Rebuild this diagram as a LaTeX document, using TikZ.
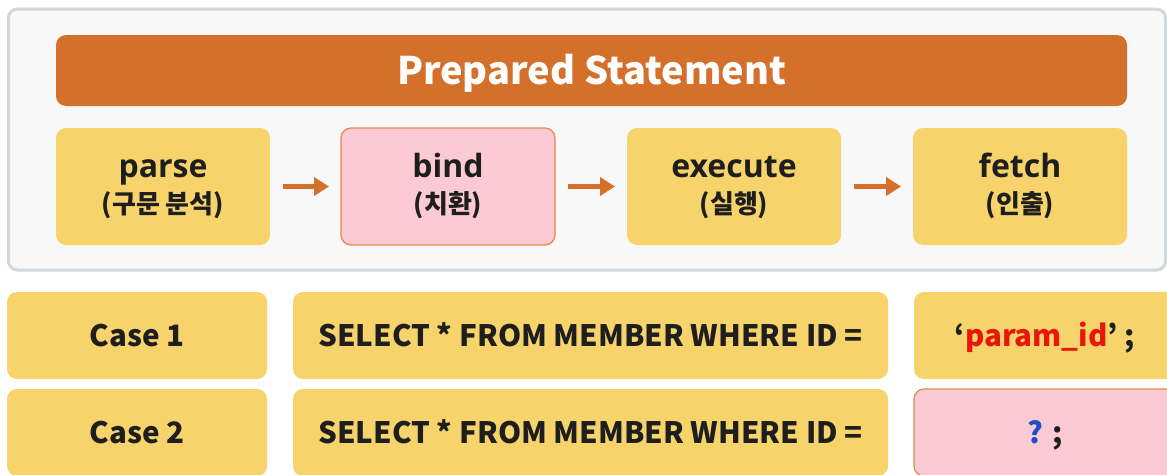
\documentclass[tikz,border=0pt]{standalone}
\usepackage{fontspec}
\setmainfont{Noto Sans CJK KR}
\newfontfamily\stepfont{Open Sans}[BoldFont={* Bold}]
\usetikzlibrary{arrows.meta}

\definecolor{framefill}{HTML}{F8F8F8}
\definecolor{frameline}{HTML}{D0D8DC}
\definecolor{brand}{HTML}{D4702A}
\definecolor{boxyellow}{HTML}{F6D36B}
\definecolor{boxpink}{HTML}{FBCAD3}
\definecolor{pinkline}{HTML}{E4884F}
\definecolor{textdark}{HTML}{1E1E1E}
\definecolor{paramred}{HTML}{E8170A}
\definecolor{qblue}{HTML}{1A50C8}

\tikzset{
  card/.style={rectangle, rounded corners=10pt, inner sep=0pt, outer sep=0pt,
    text=textdark, align=center},
  yellowcard/.style={card, fill=boxyellow},
  pinkcard/.style={card, fill=boxpink, draw=pinkline, line width=1.2pt},
  stepcard/.style={minimum width=214pt, minimum height=117pt,
    text height=60pt, text depth=6pt, font=\fontsize{26}{36}\selectfont},
  rowcard/.style={minimum height=87pt, text height=22pt, text depth=0pt,
    font=\fontsize{29.5}{36}\selectfont\bfseries},
  flow/.style={draw=brand, line width=5pt,
    -{Triangle[length=15pt,width=18pt]}, shorten <=13pt, shorten >=12pt},
}

\newcommand{\steplabel}[2]{%
  {\stepfont\bfseries\fontsize{32}{36}\selectfont #1}\\%
  {\bfseries\fontsize{26}{36}\selectfont #2}}

\begin{document}
\begin{tikzpicture}[x=1pt,y=-1pt]
\useasboundingbox (0,0) rectangle (1167,474);
\clip (0,0) rectangle (1167,474);
\fill[white] (0,0) rectangle (1167,474);

% outer panel
\node (panel) [rectangle, rounded corners=9pt, fill=framefill, draw=frameline,
  line width=3pt, minimum width=1157pt, minimum height=261pt, inner sep=0pt]
  at (587,139.5) {};

% title bar
\node (title) [rectangle, rounded corners=10pt, fill=brand, text=white,
  minimum width=1071pt, minimum height=71pt, inner sep=0pt,
  text height=27pt, text depth=0pt,
  font=\fontsize{38}{38}\selectfont\bfseries]
  at (591.5,70.5) {Prepared Statement};

% the four stages
\node (parse) [yellowcard, stepcard] at (163,186.5) {\steplabel{parse}{(구문 분석)}};
\node (bind) [pinkcard, stepcard] at (448,186.5) {\steplabel{bind}{(치환)}};
\node (execute) [yellowcard, stepcard] at (734,186.5) {\steplabel{execute}{(실행)}};
\node (fetch) [yellowcard, stepcard] at (1020,186.5) {\steplabel{fetch}{(인출)}};

\draw[flow] (parse) -- (bind);
\draw[flow] (bind) -- (execute);
\draw[flow] (execute) -- (fetch);

% case rows
\node (case1) [yellowcard, rowcard, minimum width=260pt] at (137,335.5) {Case 1};
\node (sql1) [yellowcard, rowcard, minimum width=595pt] at (590.5,335.5)
  {SELECT * FROM MEMBER WHERE ID =};
\node (val1) [yellowcard, rowcard, minimum width=262pt] at (1045,335.5)
  {‘\textcolor{paramred}{param\_id}’ ;};

\node (case2) [yellowcard, rowcard, minimum width=260pt] at (137,432.5) {Case 2};
\node (sql2) [yellowcard, rowcard, minimum width=595pt] at (590.5,432.5)
  {SELECT * FROM MEMBER WHERE ID =};
\node (val2) [pinkcard, rowcard, minimum width=262pt] at (1045,432.5)
  {\textcolor{qblue}{?} ;};
\end{tikzpicture}
\end{document}
